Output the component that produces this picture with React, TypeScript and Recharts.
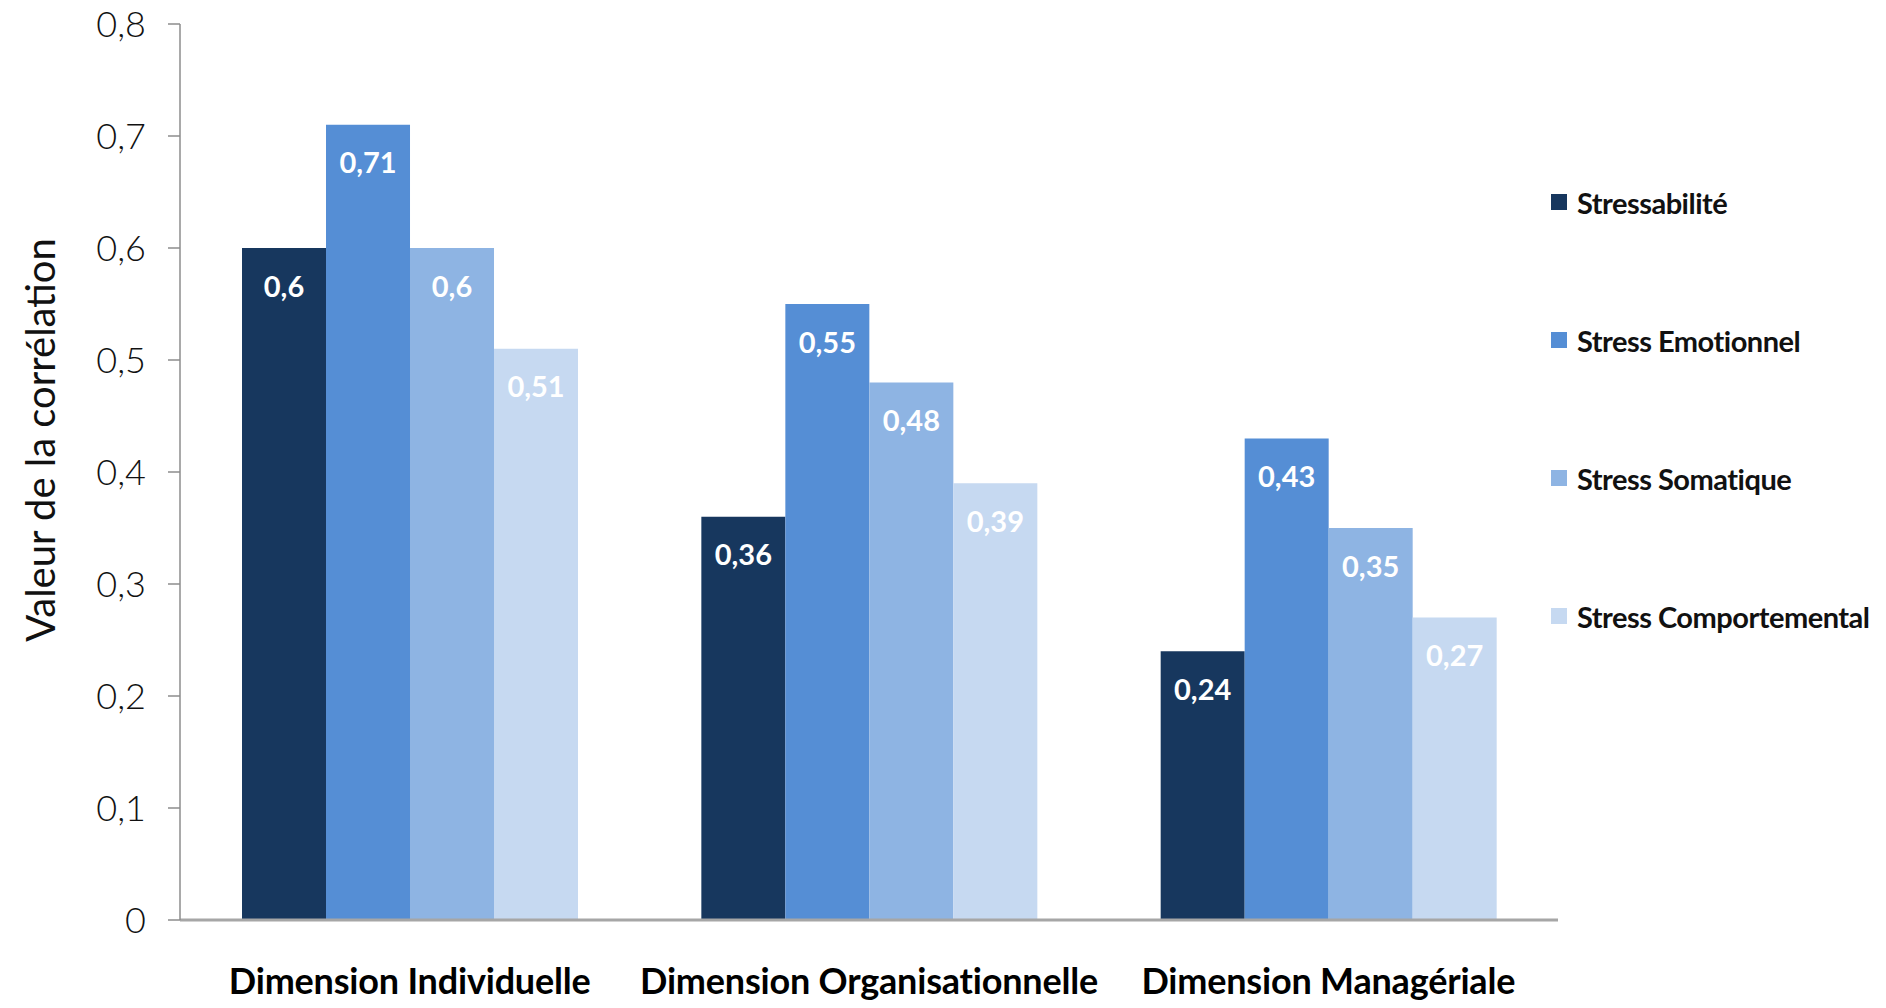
import React from "react"
import { BarChart, Bar, XAxis, YAxis, LabelList } from "recharts"

const categories = ["Dimension Individuelle", "Dimension Organisationnelle", "Dimension Managériale"]
const seriesNames = ["Stressabilité", "Stress Emotionnel", "Stress Somatique", "Stress Comportemental"]
const stressabilite = [0.6, 0.36, 0.24]
const emotionnel = [0.71, 0.55, 0.43]
const somatique = [0.6, 0.48, 0.35]
const comportemental = [0.51, 0.39, 0.27]
const yTicks = [0, 0.1, 0.2, 0.3, 0.4, 0.5, 0.6, 0.7, 0.8]

const colors = ["#17375E", "#558ED5", "#8EB4E3", "#C6D9F1"]
const seriesValues = [stressabilite, emotionnel, somatique, comportemental]

const data = categories.map((name, i) => {
  const row: Record<string, string | number> = { name }
  seriesNames.forEach((s, j) => {
    row[s] = seriesValues[j][i]
  })
  return row
})

const FONT = "Lato, 'Open Sans', sans-serif"
const fmt = (v: number) => String(v).replace(".", ",")

function CategoryTick(props: any) {
  const { x, y, payload } = props
  return (
    <text
      x={x}
      y={y}
      dy={66}
      textAnchor="middle"
      fontFamily={FONT}
      fontWeight={700}
      fontSize={36}
      fill="#000"
      letterSpacing={-0.2}
    >
      {payload.value}
    </text>
  )
}

export default function App() {
  return (
    <div style={{ position: "absolute", left: 0, top: 0, width: 1886, height: 1008, background: "#fff" }}>
      <BarChart
        width={1886}
        height={1008}
        data={data}
        margin={{ top: 24, right: 328, left: 0, bottom: 0 }}
        barCategoryGap="13.5%"
        barGap={0}
      >
        <XAxis
          dataKey="name"
          axisLine={{ stroke: "#a6a6a6", strokeWidth: 3 }}
          tickLine={false}
          height={88}
          tick={<CategoryTick />}
          interval={0}
        />
        <YAxis
          domain={[0, 0.8]}
          ticks={yTicks}
          tickFormatter={fmt}
          width={180}
          axisLine={{ stroke: "#8c8c8c", strokeWidth: 1.5 }}
          tickLine={{ stroke: "#8c8c8c", strokeWidth: 1.5 }}
          tickSize={12}
          tickMargin={22}
          tick={{ fontFamily: FONT, fontSize: 36, fontWeight: 300, fill: "#111" }}
          label={{
            value: "Valeur de la corrélation",
            angle: -90,
            position: "insideLeft",
            dx: 36,
            dy: -32,
            style: { fontFamily: FONT, fontSize: 40, fontWeight: 400, fill: "#111", textAnchor: "middle" },
          }}
        />
        {seriesNames.map((s, j) => (
          <Bar key={s} dataKey={s} fill={colors[j]} isAnimationActive={false}>
            <LabelList
              dataKey={s}
              position="insideTop"
              offset={28}
              formatter={(v: any) => fmt(Number(v))}
              style={{ fontFamily: FONT, fontSize: 29, fontWeight: 700, fill: "#fff" }}
            />
          </Bar>
        ))}
      </BarChart>
      <div style={{ position: "absolute", left: 1551, top: 133, fontFamily: FONT }}>
        {seriesNames.map((s, j) => (
          <div key={s} style={{ display: "flex", alignItems: "center", height: 138 }}>
            <span style={{ width: 16, height: 16, background: colors[j], display: "inline-block", marginRight: 10 }} />
            <span style={{ fontSize: 29, fontWeight: 700, color: "#111", letterSpacing: -0.5 }}>{s}</span>
          </div>
        ))}
      </div>
    </div>
  )
}
